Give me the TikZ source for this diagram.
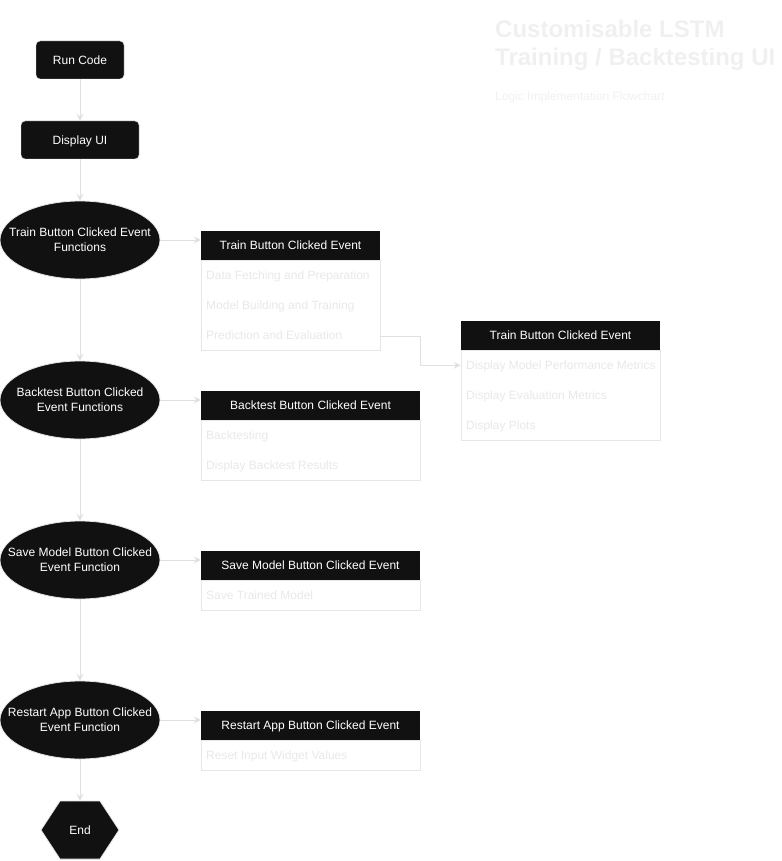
\documentclass[tikz,border=0pt]{standalone}
\usepackage{fontspec}
\setmainfont{Liberation Sans}
\usetikzlibrary{arrows.meta,calc}
\definecolor{dark}{HTML}{111111}
\definecolor{boxline}{HTML}{E6E6E6}
\definecolor{arrowline}{HTML}{E0E0E0}
\definecolor{rowtext}{HTML}{E8E8E8}
\definecolor{titlegray}{HTML}{F0F0F0}
\begin{document}
\begin{tikzpicture}[x=1pt,y=-1pt,
  every node/.style={font=\fontsize{12}{15}\selectfont},
  darkbox/.style={rectangle, rounded corners=4pt, fill=dark, draw=boxline, text=white, minimum height=38pt, text height=8.6pt, text depth=0pt},
  oval/.style={rectangle, minimum width=160pt, minimum height=78pt, text=white, align=center, inner sep=0pt},
  ovalfill/.style={fill=dark, draw=boxline, line width=0.8pt},
  head/.style={rectangle, fill=dark, text=white, minimum height=29pt, text height=8.6pt, text depth=0pt, inner sep=0pt},
  body/.style={rectangle, draw=boxline, line width=0.8pt, inner sep=0pt, anchor=north},
  rowlabel/.style={anchor=base west, text=rowtext, inner sep=0pt},
  arr/.style={draw=arrowline, line width=1pt, -{Stealth[length=7pt,width=7pt,inset=2.5pt]}}
]
\useasboundingbox (0,0) rectangle (781,861);

% title
\node[anchor=base west, inner sep=0pt, text=titlegray, font=\fontsize{24}{29}\selectfont\bfseries] (t1) at (495,37.5) {Customisable LSTM};
\node[anchor=base west, inner sep=0pt, text=titlegray, font=\fontsize{24}{29}\selectfont\bfseries] (t2) at (495,66) {Training / Backtesting UI};
\node[anchor=base west, inner sep=0pt, text=titlegray] (sub) at (495,101) {Logic Implementation Flowchart};

% main column
\node[darkbox, minimum width=88pt] (run) at (80,60) {Run Code};
\node[darkbox, minimum width=118pt] (ui) at (80,140) {Display UI};

\fill[ovalfill] (80,240) ellipse [x radius=80pt, y radius=39pt];
\node[oval] (e1) at (80,240) {Train Button Clicked Event\\Functions};
\fill[ovalfill] (80,400) ellipse [x radius=80pt, y radius=39pt];
\node[oval] (e2) at (80,400) {Backtest Button Clicked\\Event Functions};
\fill[ovalfill] (80,560) ellipse [x radius=80pt, y radius=39pt];
\node[oval] (e3) at (80,560) {Save Model Button Clicked\\Event Function};
\fill[ovalfill] (80,720) ellipse [x radius=80pt, y radius=39pt];
\node[oval] (e4) at (80,720) {Restart App Button Clicked\\Event Function};

\coordinate (endc) at (80,830);
\fill[ovalfill] ($(endc)+(-39,0)$) -- ($(endc)+(-20,-29)$) -- ($(endc)+(20,-29)$) -- ($(endc)+(39,0)$) -- ($(endc)+(20,29)$) -- ($(endc)+(-20,29)$) -- cycle;
\node[rectangle, minimum width=78pt, minimum height=58pt, text=white, inner sep=0pt] (end) at (endc) {End};

% table 1
\node[head, minimum width=179pt] (h1) at (290.5,245.5) {Train Button Clicked Event};
\node[body, minimum width=179pt, minimum height=90pt] (b1) at (h1.south) {};
\node[rowlabel] (r11) at (206,279.3) {Data Fetching and Preparation};
\node[rowlabel] (r12) at (206,309.3) {Model Building and Training};
\node[rowlabel] (r13) at (206,339.3) {Prediction and Evaluation};

% table 1b (right)
\node[head, minimum width=199pt] (h2) at (560.5,335.5) {Train Button Clicked Event};
\node[body, minimum width=199pt, minimum height=90pt] (b2) at (h2.south) {};
\node[rowlabel] (r21) at (466,369.3) {Display Model Performance Metrics};
\node[rowlabel] (r22) at (466,399.3) {Display Evaluation Metrics};
\node[rowlabel] (r23) at (466,429.3) {Display Plots};

% table 2
\node[head, minimum width=219pt] (h3) at (310.5,405.5) {Backtest Button Clicked Event};
\node[body, minimum width=219pt, minimum height=60pt] (b3) at (h3.south) {};
\node[rowlabel] (r31) at (206,439.3) {Backtesting};
\node[rowlabel] (r32) at (206,469.3) {Display Backtest Results};

% table 3
\node[head, minimum width=219pt] (h4) at (310.5,565.5) {Save Model Button Clicked Event};
\node[body, minimum width=219pt, minimum height=30pt] (b4) at (h4.south) {};
\node[rowlabel] (r41) at (206,599.3) {Save Trained Model};

% table 4
\node[head, minimum width=219pt] (h5) at (310.5,725.5) {Restart App Button Clicked Event};
\node[body, minimum width=219pt, minimum height=30pt] (b5) at (h5.south) {};
\node[rowlabel] (r51) at (206,759.3) {Reset Input Widget Values};

% vertical arrows
\draw[arr] (run.south) -- (ui.north);
\draw[arr] (ui.south) -- (e1.north);
\draw[arr] (e1.south) -- (e2.north);
\draw[arr] (e2.south) -- (e3.north);
\draw[arr] (e3.south) -- (e4.north);
\draw[arr] (e4.south) -- (end.north);

% horizontal arrows
\draw[arr] (e1.east) -- (e1.east -| h1.west);
\draw[arr] (e2.east) -- (e2.east -| h3.west);
\draw[arr] (e3.east) -- (e3.east -| h4.west);
\draw[arr] (e4.east) -- (e4.east -| h5.west);

% elbow connector
\draw[arr] ($(b1.south east)+(0,-15)$) -- ++(40,0) |- ($(b2.north west)+(0,15)$);
\end{tikzpicture}
\end{document}
